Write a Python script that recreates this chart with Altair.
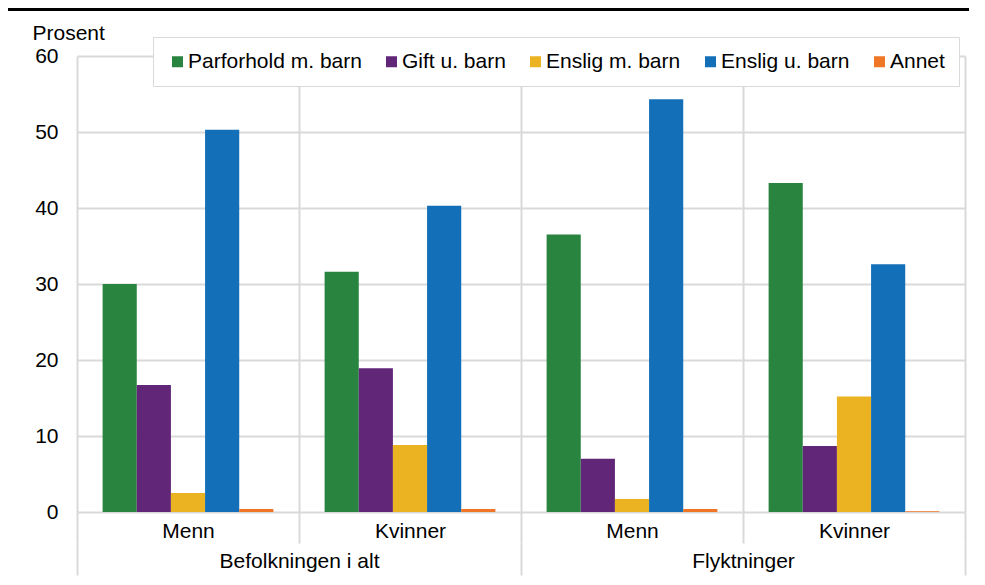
import altair as alt
import pandas as pd

groups = ["Befolkningen i alt", "Befolkningen i alt", "Flyktninger", "Flyktninger"]
sexes = ["Menn", "Kvinner", "Menn", "Kvinner"]
series = ["Parforhold m. barn", "Gift u. barn", "Enslig m. barn", "Enslig u. barn", "Annet"]
colors = ["#28843f", "#612678", "#ebb221", "#136fb7", "#ef7626"]

parforhold_m_barn = [30.0, 31.6, 36.5, 43.3]
gift_u_barn = [16.7, 18.9, 7.0, 8.7]
enslig_m_barn = [2.5, 8.8, 1.7, 15.2]
enslig_u_barn = [50.3, 40.3, 54.3, 32.6]
annet = [0.4, 0.4, 0.4, 0.1]

values_by_series = [parforhold_m_barn, gift_u_barn, enslig_m_barn, enslig_u_barn, annet]

rows = []
for s, vals in zip(series, values_by_series):
    for g, sx, v in zip(groups, sexes, vals):
        rows.append({"cat": g + "|" + sx, "group": g, "sex": sx, "serie": s, "value": v})
df = pd.DataFrame(rows)
cat_order = [g + "|" + sx for g, sx in zip(groups, sexes)]
group_order = ["Befolkningen i alt", "Flyktninger"]
df_groups = pd.DataFrame({"group": group_order})

FONT = "Liberation Sans"
GRID = "#d9d9d9"

bars = alt.Chart(df).mark_bar().encode(
    x=alt.X("cat:N", sort=cat_order,
            scale=alt.Scale(paddingInner=0, paddingOuter=0),
            axis=alt.Axis(title=None, orient="bottom", domain=False,
                          labelExpr="split(datum.label, '|')[1]",
                          tickBand="extent", tickSize=31, tickColor=GRID, tickWidth=2,
                          grid=True, gridColor=GRID, gridWidth=2,
                          labelFont=FONT, labelFontSize=21, labelColor="#000000",
                          labelBaseline="alphabetic", labelPadding=-6, labelAngle=0)),
    xOffset=alt.XOffset("serie:N", sort=series,
                        scale=alt.Scale(paddingInner=0, paddingOuter=0.75)),
    y=alt.Y("value:Q", scale=alt.Scale(domain=[0, 60]),
            axis=alt.Axis(title="Prosent", values=[0, 10, 20, 30, 40, 50, 60],
                          domain=False, ticks=False, grid=True, gridColor=GRID, gridWidth=2,
                          labelFont=FONT, labelFontSize=21, labelColor="#000000", labelPadding=19,
                          titleAngle=0, titleAlign="left", titleBaseline="alphabetic",
                          titleX=-45, titleY=-17, titleFont=FONT, titleFontSize=21,
                          titleFontWeight="normal", titleColor="#000000")),
    color=alt.Color("serie:N", sort=series,
                    scale=alt.Scale(domain=series, range=colors),
                    legend=alt.Legend(title=None, orient="none", direction="horizontal",
                                      columns=5, legendX=76, legendY=-19,
                                      symbolType="square", symbolSize=121, symbolStrokeWidth=0,
                                      labelFont=FONT, labelFontSize=21, labelColor="#000000",
                                      labelLimit=400, labelOffset=0, columnPadding=19, padding=14,
                                      strokeColor=GRID, fillColor="#ffffff")),
)

group_axis = alt.Chart(df_groups).mark_point(opacity=0).encode(
    x=alt.X("group:N", sort=group_order,
            scale=alt.Scale(paddingInner=0, paddingOuter=0),
            axis=alt.Axis(title=None, orient="bottom", offset=31, domain=False,
                          tickBand="extent", tickSize=32, tickColor=GRID, tickWidth=2,
                          grid=False,
                          labelFont=FONT, labelFontSize=21, labelColor="#000000",
                          labelBaseline="alphabetic", labelPadding=-8, labelAngle=0)),
    y=alt.value(0),
)

top_line = alt.Chart(pd.DataFrame({"a": [0]})).mark_rule(color="#000000", strokeWidth=3).encode(
    x=alt.value(-69), x2=alt.value(892), y=alt.value(-46.5)
)

chart = alt.layer(bars, group_axis, top_line).resolve_scale(x="independent").properties(
    width=888, height=456,
    autosize=alt.AutoSizeParams(type="none"),
    padding={"left": 69, "top": 48, "right": 4, "bottom": 64},
).configure_view(stroke=None)

chart.save("out.html", embed_options={"renderer": "svg", "actions": False})
